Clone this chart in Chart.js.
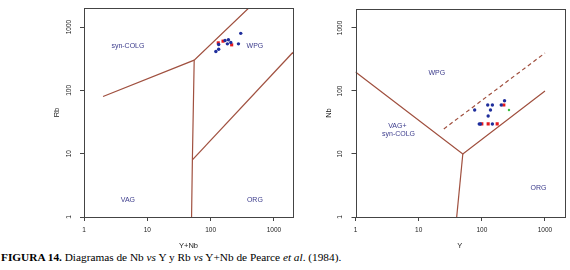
<!DOCTYPE html>
<html>
<head>
<meta charset="utf-8">
<script src="https://cdn.jsdelivr.net/npm/chart.js@4.4.1/dist/chart.umd.min.js"></script>
<style>
  html, body { margin:0; padding:0; background:#fff; }
  body { width:570px; height:270px; position:relative; overflow:hidden; }
  #c1 { position:absolute; left:0; top:0; }
  #c2 { position:absolute; left:285px; top:0; }
  #cap { position:absolute; left:1px; top:250px; font-family:"Liberation Serif","Times New Roman",serif; font-size:11.3px; line-height:14px; color:#000; white-space:nowrap; }
</style>
</head>
<body>
<canvas id="c1" width="300" height="250"></canvas>
<canvas id="c2" width="285" height="250"></canvas>
<div id="cap"><b>FIGURA 14.</b> Diagramas de Nb <i>vs</i> Y y Rb <i>vs</i> Y+Nb de Pearce <i>et al</i>. (1984).</div>
<script>
// ---- tick values / labels ----
const tickValues = [1, 10, 100, 1000];
const tickLabels = ['1', '10', '100', '1000'];

// ---- Left panel: Rb vs Y+Nb ----
const leftBlueX = [299, 275, 191, 169, 184, 208, 134, 121, 134];
const leftBlueY = [795, 543, 630, 614, 543, 571, 447, 411, 531];
const leftRedX = [157, 215, 132];
const leftRedY = [599, 524, 563];
// boundary lines (Pearce et al. 1984)
const leftLineA = [[2, 80], [55, 300], [400, 2000]];
const leftLineB = [[55, 300], [51.5, 8], [50, 1]];
const leftLineC = [[51.5, 8], [2000, 400]];
const leftRegionNames = ['syn-COLG', 'WPG', 'VAG', 'ORG'];

// ---- Right panel: Nb vs Y ----
const rightBlueX = [77, 124, 147, 229, 203, 137, 126, 91, 95, 147];
const rightBlueY = [50, 60, 60, 70, 60, 50, 40, 30, 30, 30];
const rightRedX = [223, 100, 126, 175];
const rightRedY = [60, 30, 30, 30];
const rightGreenX = [269];
const rightGreenY = [50];
const rightLineD = [[1, 200], [50, 10], [1000, 100]];
const rightLineE = [[50, 10], [40, 1]];
const rightLineF = [[25, 25], [1000, 400]];
const rightRegionNames = ['WPG', 'VAG+', 'syn-COLG', 'ORG'];

const lineColor = '#a0503f';
const textColor = '#3c3c8c';

function pts(xs, ys) { return xs.map((x, i) => ({ x: x, y: ys[i] })); }
function linePts(arr) { return arr.map(p => ({ x: p[0], y: p[1] })); }

function lineDs(arr, dashed) {
  return { type: 'line', data: linePts(arr), borderColor: lineColor, borderWidth: 1.2,
    pointRadius: 0, fill: false, tension: 0, borderDash: dashed ? [4, 3] : [], order: 5 };
}
function ptDs(data, color, style, r) {
  return { type: 'scatter', data: data, backgroundColor: color, borderColor: color,
    pointStyle: style, pointRadius: r, borderWidth: 0, order: 1 };
}

function logAxis(title, isX, size, titlePad) {
  return {
    type: 'logarithmic', min: 1, max: 2000, position: isX ? 'bottom' : 'left',
    afterBuildTicks: s => { s.ticks = tickValues.map(v => ({ value: v })); },
    ticks: {
      callback: (v) => tickLabels[tickValues.indexOf(v)] ?? '',
      font: { size: 6.5 }, color: '#222', autoSkip: false,
      padding: isX ? 5 : 4,
      minRotation: isX ? 0 : 90, maxRotation: isX ? 0 : 90,
      crossAlign: isX ? 'near' : 'center'
    },
    grid: { drawOnChartArea: false, drawTicks: true, tickLength: 4, color: '#444', lineWidth: 1 },
    border: { display: false },
    title: { display: true, text: title, font: { size: 7.5 }, color: '#222', padding: titlePad },
    afterFit: s => { if (isX) s.height = size; else s.width = size; }
  };
}

const boxPlugin = {
  id: 'box',
  afterDraw(chart) {
    const a = chart.chartArea, ctx = chart.ctx;
    ctx.save();
    ctx.strokeStyle = '#444';
    ctx.lineWidth = 1;
    ctx.strokeRect(Math.round(a.left) + 0.5, Math.round(a.top) + 0.5,
      Math.round(a.right - a.left), Math.round(a.bottom - a.top));
    ctx.restore();
  }
};

const regionPlugin = {
  id: 'regions',
  afterDatasetsDraw(chart, args, opts) {
    const ctx = chart.ctx, xs = chart.scales.x, ys = chart.scales.y;
    ctx.save();
    ctx.font = '7px "Liberation Sans", Arial, sans-serif';
    ctx.fillStyle = textColor;
    ctx.textAlign = 'center';
    ctx.textBaseline = 'middle';
    (opts.items || []).forEach(it => {
      ctx.fillText(it.text, xs.getPixelForValue(it.x), ys.getPixelForValue(it.y));
    });
    ctx.restore();
  }
};

Chart.defaults.font.family = '"Liberation Sans", Arial, sans-serif';
Chart.defaults.animation = false;

function makeChart(id, datasets, xTitle, yTitle, yWidth, yTitleOffset, padding, regionItems) {
  return new Chart(document.getElementById(id), {
    type: 'scatter',
    data: { datasets: datasets },
    options: {
      responsive: false, animation: false,
      layout: { padding: padding },
      plugins: { legend: { display: false }, tooltip: { enabled: false }, regions: { items: regionItems } },
      scales: {
        x: logAxis(xTitle, true, 33, { top: 0, bottom: 0 }),
        y: logAxis(yTitle, false, yWidth, { top: yTitleOffset, bottom: 0 })
      }
    },
    plugins: [boxPlugin, regionPlugin]
  });
}

makeChart('c1', [
  lineDs(leftLineA), lineDs(leftLineB), lineDs(leftLineC),
  ptDs(pts(leftBlueX, leftBlueY), '#1f2e9c', 'circle', 1.7),
  ptDs(pts(leftRedX, leftRedY), '#e5191e', 'rect', 2.2)
], 'Y+Nb', 'Rb', 84, 52, { left: 0, right: 7, top: 8, bottom: 0 }, [
  { text: leftRegionNames[0], x: 4.94, y: 493 },
  { text: leftRegionNames[1], x: 500, y: 493 },
  { text: leftRegionNames[2], x: 4.94, y: 1.88 },
  { text: leftRegionNames[3], x: 500, y: 1.88 }
]);

makeChart('c2', [
  lineDs(rightLineD), lineDs(rightLineE), lineDs(rightLineF, true),
  ptDs(pts(rightBlueX, rightBlueY), '#1f2e9c', 'circle', 1.7),
  ptDs(pts(rightRedX, rightRedY), '#e5191e', 'rect', 2.2),
  ptDs(pts(rightGreenX, rightGreenY), '#3cbf3c', 'circle', 1.2)
], 'Y', 'Nb', 70.5, 39.5, { left: 0, right: 6, top: 9, bottom: 0 }, [
  { text: rightRegionNames[0], x: 19.4, y: 195 },
  { text: rightRegionNames[1], x: 4.6, y: 28.1 },
  { text: rightRegionNames[2], x: 4.8, y: 20.5 },
  { text: rightRegionNames[3], x: 791, y: 2.86 }
]);
</script>
</body>
</html>
